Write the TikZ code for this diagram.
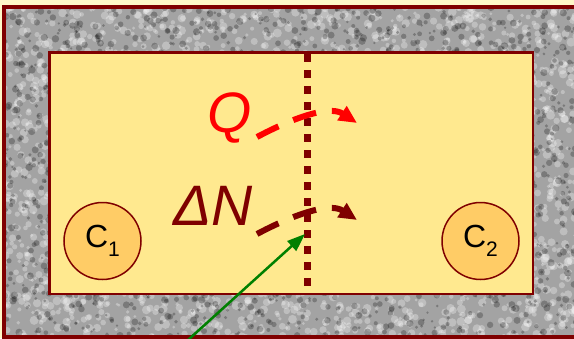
\documentclass[tikz,border=0pt]{standalone}
\usepackage{fontspec}
\setmainfont{Liberation Sans}
\usetikzlibrary{arrows.meta}

\definecolor{wall}{HTML}{7F0000}
\definecolor{boxfill}{HTML}{FFE98F}
\definecolor{cellfill}{HTML}{FFCC66}
\definecolor{paper}{HTML}{FFF8C8}
\definecolor{pointer}{HTML}{008000}

\newcommand{\csub}[1]{\raisebox{-9pt}{\fontsize{21}{21}\selectfont #1}}

\tikzset{
    cell/.style={circle, draw=wall, line width=1.5pt, fill=cellfill, minimum size=77pt, inner sep=0pt, font=\fontsize{32}{32}\selectfont},
    flux/.style={line width=6pt, dash pattern=on 24pt off 16pt, -{Triangle[length=18pt,width=16pt]}},
    biglabel/.style={anchor=base west, inner sep=0pt, font=\fontsize{57}{57}\selectfont\itshape},
}

\begin{document}
\begin{tikzpicture}[x=1pt, y=-1pt]
    \useasboundingbox (0,0) rectangle (574,338);
    \fill[paper] (0,0) rectangle (574,338);

    % rough stone wall round the box
    \begin{scope}
        \clip (4,7) rectangle (580,337);
        \fill[black!36] (4,7) rectangle (580,337);
        \pgfmathsetseed{17}
        \foreach \i in {1,...,2600} {
            \pgfmathsetmacro{\px}{4+rnd*576}
            \pgfmathsetmacro{\py}{7+rnd*330}
            \pgfmathsetmacro{\pr}{1.5+rnd*3}
            \fill[white, opacity=0.3] (\px,\py) circle (\pr pt);
        }
        \foreach \i in {1,...,2000} {
            \pgfmathsetmacro{\px}{4+rnd*576}
            \pgfmathsetmacro{\py}{7+rnd*330}
            \pgfmathsetmacro{\pr}{1.2+rnd*2.5}
            \fill[black, opacity=0.25] (\px,\py) circle (\pr pt);
        }
    \end{scope}
    \draw[wall, line width=4pt] (4,7) rectangle (580,337);

    % the two halves
    \draw[wall, line width=2.5pt, fill=boxfill] (49.5,52.5) rectangle (533,294);

    \coordinate (dtop) at (307,54);
    \coordinate (dbot) at (307,293);
    \draw[wall, line width=7pt, dash pattern=on 8pt off 8pt] (dtop) -- (dbot);

    \node[cell] at (102.5,241) (C1) {C\csub{1}};
    \node[cell] at (480.5,241) (C2) {C\csub{2}};

    \node[biglabel, text=red] at (207,132) (Q) {Q};
    \node[biglabel, text=wall] at (173,225) (dN) {ΔN};

    \coordinate (qa) at (257,137);
    \coordinate (qb) at (357,123);
    \coordinate (na) at (257,234);
    \coordinate (nb) at (357,220);
    \draw[flux, red] (qa) .. controls (287,121) and (328,104) .. (qb);
    \draw[flux, wall] (na) .. controls (287,218) and (328,201) .. (nb);

    \coordinate (gstart) at (188,340);
    \coordinate (gend) at (305,234);
    \draw[pointer, line width=2.5pt, -{Triangle[length=18pt,width=13pt]}] (gstart) -- (gend);
\end{tikzpicture}
\end{document}
